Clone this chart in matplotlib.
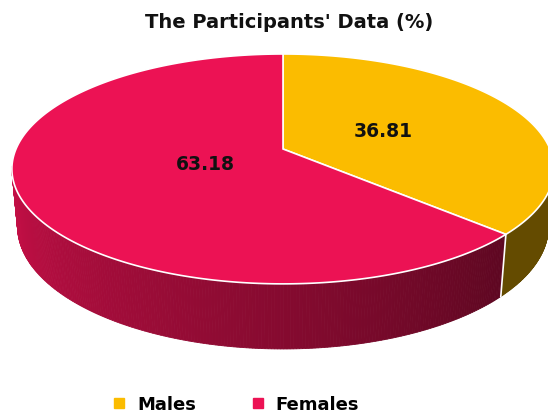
import numpy as np
import matplotlib
matplotlib.use("Agg")
import matplotlib.pyplot as plt
from matplotlib.patches import Polygon
from matplotlib.lines import Line2D
from matplotlib.colors import to_rgb

labels = ["Males", "Females"]
values = [36.81, 63.18]
colors = ["#FBBC00", "#EC1254"]
title = "The Participants' Data (%)"

# 3d pie view setup (pixel space)
cx, cy = 283, 150
Sx, Sy = 267, 258
phi = np.radians(25.6)
c, s = np.cos(phi), np.sin(phi)
D = 5.2
h = 0.249


def proj(X, Y, Z):
    depth = D + Y * c - Z * s
    yc = Y * s + Z * c
    return cx + Sx * X * D / depth, cy - Sy * yc * D / depth


fig = plt.figure(figsize=(5.48, 4.14), dpi=100)
ax = fig.add_axes([0, 0, 1, 1])
ax.set_xlim(0, 548)
ax.set_ylim(414, 0)
ax.axis("off")

# slice angles, clockwise from top
fracs = np.array(values) / sum(values)
starts = 90 - 360 * np.concatenate([[0], np.cumsum(fracs)[:-1]])
ends = starts - 360 * fracs


def shade(col, th):
    # brighter on the left front, darker towards the right
    t = np.clip((np.degrees(th) - 190) / 127.0, 0, 1)
    f = 0.85 - 0.45 * t
    return tuple(np.array(to_rgb(col)) * f)


# side wall
for i in range(len(values)):
    a0, a1 = np.radians(ends[i]), np.radians(starts[i])
    th = np.linspace(a0, a1, 400)
    for k in range(len(th) - 1):
        t0, t1 = th[k], th[k + 1]
        tm = (t0 + t1) / 2 % (2 * np.pi)
        if np.sin(tm) > -0.15:
            continue
        pts = [proj(np.cos(t0), np.sin(t0), 0), proj(np.cos(t1), np.sin(t1), 0),
               proj(np.cos(t1), np.sin(t1), -h), proj(np.cos(t0), np.sin(t0), -h)]
        col = shade(colors[i], tm)
        ax.add_patch(Polygon(pts, closed=True, facecolor=col, edgecolor=col, lw=0.6))

# white vertical edges at slice borders on the front
for a in starts:
    t = np.radians(a)
    if np.sin(t) < -0.15:
        p0 = proj(np.cos(t), np.sin(t), 0)
        p1 = proj(np.cos(t), np.sin(t), -h)
        ax.plot([p0[0], p1[0]], [p0[1], p1[1]], color="white", lw=1.2)

# top faces
for i in range(len(values)):
    th = np.radians(np.linspace(starts[i], ends[i], 300))
    pts = [proj(0, 0, 0)] + [proj(np.cos(t), np.sin(t), 0) for t in th]
    ax.add_patch(Polygon(pts, closed=True, facecolor=colors[i], edgecolor="white", lw=1.2))

# value labels
label_r = [0.42, 0.31]
for i in range(len(values)):
    m = np.radians((starts[i] + ends[i]) / 2)
    x, y = proj(label_r[i] * np.cos(m), label_r[i] * np.sin(m), 0)
    ax.text(x, y, f"{values[i]:.2f}", ha="center", va="center",
            fontsize=13.5, fontweight="bold", color="#111111")

ax.text(289, 22, title, ha="center", va="center", fontsize=14,
        fontweight="bold", color="#111111")

handles = [Line2D([], [], marker="s", ls="none", markersize=7, color=col) for col in colors]
fig.legend(handles, labels, loc="center", bbox_to_anchor=(0.43, 0.022), ncol=2,
           frameon=False, handlelength=0.8, handletextpad=0.6, columnspacing=3.0,
           prop={"weight": "bold", "size": 13})

fig.savefig("out.png", dpi=100)
